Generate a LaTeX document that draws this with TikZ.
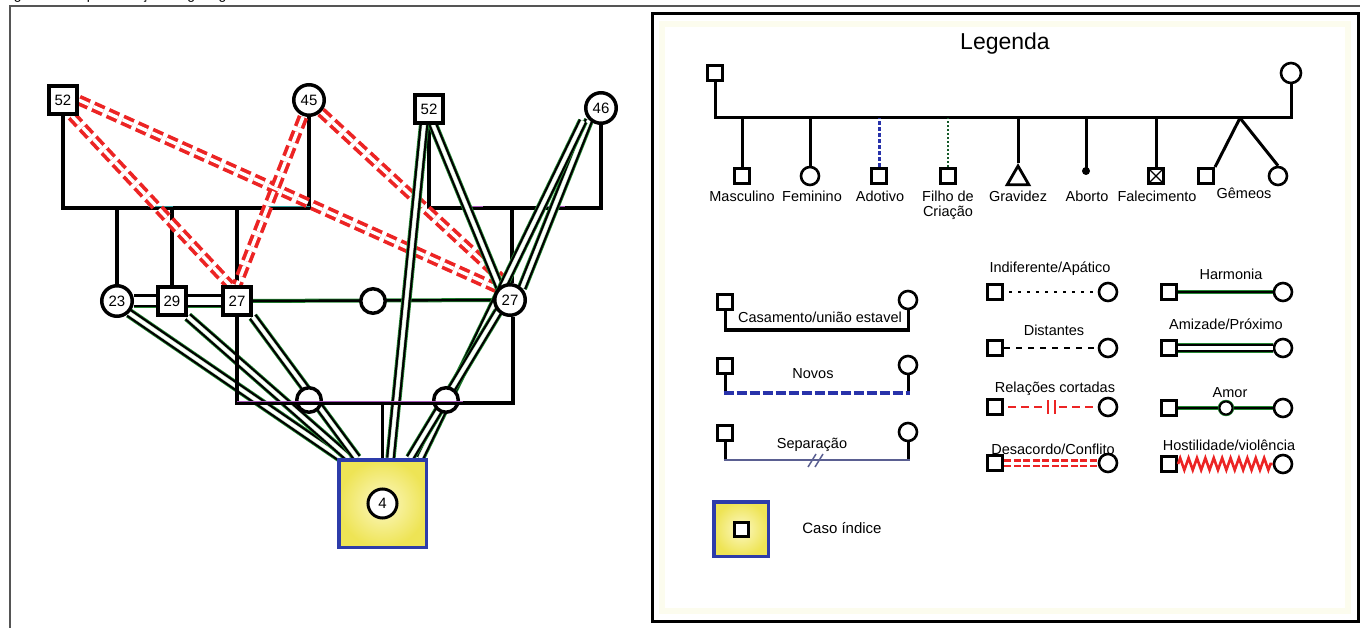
\documentclass[tikz,border=0pt]{standalone}
\usepackage{fontspec}
\setmainfont{Liberation Sans}
\usetikzlibrary{calc,decorations.pathmorphing,shapes.geometric}
\pgfdeclarelayer{famlayer}
\pgfdeclarelayer{rellayer}
\pgfdeclarelayer{toplayer}
\pgfsetlayers{famlayer,rellayer,main,toplayer}

\definecolor{confred}{RGB}{236,36,36}
\definecolor{relgreen}{RGB}{35,135,50}
\definecolor{relpale}{RGB}{190,225,190}
\definecolor{idxblue}{RGB}{45,60,170}
\definecolor{idxyellow}{RGB}{238,228,85}
\definecolor{idxlight}{RGB}{252,248,195}
\definecolor{lilac}{RGB}{165,85,185}
\definecolor{tealtint}{RGB}{40,150,150}
\definecolor{newblue}{RGB}{40,50,170}
\definecolor{sepblue}{RGB}{90,95,145}
\definecolor{fostergreen}{RGB}{20,90,40}
\definecolor{framegray}{RGB}{85,85,85}
\definecolor{paleedge}{RGB}{252,252,238}

\tikzset{
  fam/.style={draw=black, line width=3.5pt},
  lfam/.style={draw=black, line width=3pt},
  numfont/.style={font=\fontsize{15}{17}\selectfont},
  gsq/.style={draw=black, fill=white, line width=4pt, minimum size=27.5pt, inner sep=0pt, numfont},
  gci/.style={circle, draw=black, fill=white, line width=3.5pt, minimum size=30.5pt, inner sep=0pt, numfont},
  kid/.style={circle, draw=black, fill=white, line width=3.5pt, minimum size=24.5pt, inner sep=0pt},
  idxbox/.style={draw=idxblue, line width=3.5pt, inner color=idxlight, outer color=idxyellow, inner sep=0pt},
  lsq/.style={draw=black, fill=white, line width=2.6pt, minimum size=15.5pt, inner sep=0pt},
  lci/.style={circle, draw=black, fill=white, line width=2.6pt, minimum size=18pt, inner sep=0pt},
  lbl/.style={font=\fontsize{14.5}{16}\selectfont, inner sep=0pt, anchor=base},
  conflict/.style={draw=confred, line width=3.7pt, double=white, double distance=3.4pt, dash pattern=on 11pt off 5pt},
  lconflict/.style={draw=confred, line width=2.5pt, double=white, double distance=3pt, dash pattern=on 7pt off 2.5pt},
  close/.style={draw=white, line width=3pt, preaction={draw=relpale, line width=4.2pt, preaction={draw=black, line width=8.6pt, preaction={draw=relgreen, line width=10.2pt}}}},
  closewide/.style={draw=white, line width=7.5pt, preaction={draw=black, line width=13pt, preaction={draw=relgreen, line width=14.6pt}}},
  lclose/.style={draw=white, line width=3.5pt, preaction={draw=black, line width=8pt, preaction={draw=relgreen, line width=9.4pt}}},
  harmony/.style={draw=black, line width=2.4pt, preaction={draw=relgreen, line width=4pt}},
}

\begin{document}
\begin{tikzpicture}[x=1pt, y=-1pt]
\useasboundingbox (0,0) rectangle (1360,628);

% caption line, cut by the page edge
\node[anchor=base west, inner sep=0pt, font=\fontsize{14}{16}\selectfont] (caption) at (2,0) {Figura 1 – Representação do genograma};

% outer frame
\draw[framegray, line width=1.3pt] (10,628) -- (10,6) -- (1360,6);

% ---------------- genogram ----------------
\node[gsq] (m52a) at (63,100) {52};
\node[gci] (f45) at (309,100) {45};
\node[gsq] (m52b) at (429,109) {52};
\node[gci] (f46) at (601,108) {46};
\node[gci] (f23) at (117,301) {23};
\node[gsq] (m29) at (172,301) {29};
\node[gsq] (m27) at (237,301) {27};
\node[kid] (fx) at (373,301) {};
\node[gci] (f27) at (510,300) {27};
\node[kid] (c1) at (309,400) {};
\node[kid] (c2) at (446,400) {};
\node[idxbox, minimum size=87.5pt] (idx) at (382.5,503.5) {};
\node[gci, line width=3pt, minimum size=29pt] (p4) at (idx.center) {4};

\coordinate (r1) at (0,208);
\coordinate (r3) at (0,403);

\begin{pgfonlayer}{famlayer}
  % first and second generation couples
  \draw[fam] (m52a.south) -- (m52a.south |- r1) -- (f45.south |- r1) -- (f45.south);
  \draw[fam] (f23.north) -- (f23.north |- r1);
  \draw[fam] (m29.north) -- (m29.north |- r1);
  \draw[fam] (m27.north) -- (m27.north |- r1);
  \draw[fam] (m52b.south) -- (m52b.south |- r1) -- (f46.south |- r1) -- (f46.south);
  \draw[fam] ($(f27.north)+(2,0)$) -- ($(f27.north |- r1)+(2,0)$);
  % tints along the sibship lines
  \draw[tealtint, line width=1.3pt] (148,206.5) -- (173,206.5) (267,206.5) -- (310,206.5);
  \draw[lilac, line width=1.3pt] (462,206.5) -- (483,206.5) (537,206.5) -- (565,206.5);
\end{pgfonlayer}

\begin{pgfonlayer}{rellayer}
  % conflict
  \draw[conflict] ($(m52a.south east)+(-7,0)$) -- ($(m27.north)+(-7,0)$);
  \draw[conflict] (m52a.east) -- ($(f27.north west)+(-1,0)$);
  \draw[conflict] ($(f45.south)+(-6,0)$) -- (m27.north);
  \draw[conflict] (f45.south east) -- ($(f27.north)+(-4,0)$);
  % closeness and harmony
  \draw[closewide] (f23) -- (m27);
  \draw[harmony] (m27) -- (f27);
  \draw[close] (f23.south east) -- ($(idx.north west)+(4,0)$);
  \draw[close] (m29.south east) -- ($(idx.north west)+(12,0)$);
  \draw[close] (m27.south east) -- ($(idx.north west)+(20,0)$);
  \draw[close] ($(m52b.south)+(-5,0)$) -- ($(idx.north)+(8,0)$);
  \draw[close] ($(m52b.south)+(4,0)$) -- ($(f27.north west)+(2,0)$);
  \draw[close] (f46.south west) -- (f27.north east);
  \draw[close] ($(f46.south west)+(-6,1)$) -- ($(idx.north east)+(-8,0)$);
  \draw[close] (f27.south west) -- ($(idx.north east)+(-18,0)$);
\end{pgfonlayer}

\begin{pgfonlayer}{toplayer}
  \draw[fam] (m27.south) -- (m27.south |- r3) -- ($(f27.south |- r3)+(3,0)$) -- ($(f27.south)+(3,0)$);
  \draw[fam] (idx.north) -- (idx.north |- r3);
  \draw[lilac, line width=1.3pt] ($(m27.south |- r3)+(0,-1.5)$) -- ($(c2.east |- r3)+(3,-1.5)$);
\end{pgfonlayer}

% ---------------- legend ----------------
\draw[paleedge, line width=6pt] (662,24) rectangle (1348,611);
\draw[black, line width=3pt] (652,14) rectangle (1358,621);
\node[font=\fontsize{23}{27}\selectfont, inner sep=0pt] (ttl) at (1005,44) {Legenda};

% symbols
\node[lsq] (lm) at (715,73) {};
\node[lci, minimum size=20pt] (lf) at (1291,73) {};
\coordinate (lr) at (0,118);
\draw[lfam] (lm.south) -- (lm.south |- lr) -- (lf.south |- lr) -- (lf.south);

\node[lsq] (k1) at (742,176) {};
\node[lci] (k2) at (810,176) {};
\node[lsq] (k3) at (879,176) {};
\node[lsq] (k4) at (948,176) {};
\node[regular polygon, regular polygon sides=3, draw=black, line width=2.8pt, minimum size=25pt, inner sep=0pt] (k5) at (1018,178.5) {};
\node[circle, fill=black, minimum size=8pt, inner sep=0pt] (k6) at (1086,171) {};
\node[lsq] (k7) at (1156,176) {};
\node[lsq] (k8) at (1206,176) {};
\node[lci] (k9) at (1278,176) {};
\coordinate (apex) at (1240,118);

\draw[lfam] (k1.north) -- (k1.north |- lr);
\draw[lfam] (k2.north) -- (k2.north |- lr);
\draw[newblue, line width=3pt, dash pattern=on 4pt off 2pt] (k3.north) -- (k3.north |- lr);
\draw[fostergreen, line width=2.6pt, dash pattern=on 2pt off 2pt] (k4.north) -- (k4.north |- lr);
\draw[lfam] (k5.north) -- (k5.north |- lr);
\draw[lfam] (k6.center) -- (k6.center |- lr);
\draw[lfam] (k7.north) -- (k7.north |- lr);
\draw[black, line width=1.3pt] ($(k7.north west)+(2,2)$) -- ($(k7.south east)+(-2,-2)$) ($(k7.north east)+(-2,2)$) -- ($(k7.south west)+(2,-2)$);
\draw[lfam] (apex) -- (k8.north east);
\draw[lfam] (apex) -- (k9.north);

\node[lbl] (t1) at (742,202) {Masculino};
\node[lbl] (t2) at (812,202) {Feminino};
\node[lbl] (t3) at (880,202) {Adotivo};
\node[lbl] (t4a) at (948,202) {Filho de};
\node[lbl] (t4b) at (948,217) {Criação};
\node[lbl] (t5) at (1018,202) {Gravidez};
\node[lbl] (t6) at (1087,202) {Aborto};
\node[lbl] (t7) at (1157,202) {Falecimento};
\node[lbl] (t8) at (1244,199) {Gêmeos};

% unions
\node[lsq] (a1) at (725,302) {};
\node[lci] (a2) at (908,300) {};
\coordinate (ya) at (0,330);
\draw[lfam] (a1.south) -- (a1.south |- ya) -- (a2.south |- ya) -- (a2.south);
\node[lbl] (ta) at (820,323) {Casamento/união estavel};

\node[lsq] (b1) at (725,366) {};
\node[lci] (b2) at (908,365) {};
\coordinate (yb) at (0,393);
\draw[lfam] (b1.south) -- (b1.south |- yb);
\draw[lfam] (b2.south) -- (b2.south |- yb);
\draw[newblue, line width=3.5pt, dash pattern=on 10pt off 3pt] ($(b1.south |- yb)+(-1.5,0)$) -- ($(b2.south |- yb)+(1.5,0)$);
\node[lbl] (tb) at (813,378) {Novos};

\node[lsq] (s1) at (725,433) {};
\node[lci] (s2) at (908,432) {};
\coordinate (ys) at (0,460);
\draw[lfam] (s1.south) -- (s1.south |- ys);
\draw[lfam] (s2.south) -- (s2.south |- ys);
\draw[sepblue, line width=2pt] ($(s1.south |- ys)+(-1.5,0)$) -- ($(s2.south |- ys)+(1.5,0)$);
\draw[sepblue, line width=1.5pt] (808,467) -- (816,454) (815,467) -- (823,454);
\node[lbl] (ts) at (812,448) {Separação};

\node[idxbox, minimum size=54.5pt] (ci) at (741,529) {};
\node[lsq, line width=3pt, minimum size=14pt] (cim) at (ci.center) {};
\node[lbl, font=\fontsize{15}{17}\selectfont] (tci) at (842,533) {Caso índice};

% emotional relations
\node[lsq] (d1) at (995,292) {};
\node[lci] (d2) at (1108,292) {};
\draw[black, line width=2.4pt, dash pattern=on 2.5pt off 6.5pt] ($(d1.east)+(5,0)$) -- (d2.west);
\node[lbl] (td) at (1050,273) {Indiferente/Apático};

\node[lsq] (e1) at (995,348) {};
\node[lci] (e2) at (1108,348) {};
\draw[black, line width=2.6pt, dash pattern=on 6pt off 6pt] (e1.east) -- (e2.west);
\node[lbl] (te) at (1054,335) {Distantes};

\node[lsq] (g1) at (995,407) {};
\node[lci] (g2) at (1108,407) {};
\coordinate (gcut) at (1051,407);
\draw[confred, line width=2.6pt, dash pattern=on 8pt off 5pt] ($(g1.east)+(4,0)$) -- ($(gcut)+(-6,0)$);
\draw[confred, line width=2.6pt, dash pattern=on 8pt off 5pt] ($(gcut)+(8,0)$) -- ($(g2.west)+(-3,0)$);
\draw[confred, line width=2.6pt] ($(gcut)+(-3,-7)$) -- ($(gcut)+(-3,7)$) ($(gcut)+(4,-7)$) -- ($(gcut)+(4,7)$);
\node[lbl] (tg) at (1055,392) {Relações cortadas};

\node[lsq] (h1) at (995,463) {};
\node[lci] (h2) at (1108,463) {};
\draw[lconflict] (h1.east) -- (h2.west);
\node[lbl] (th) at (1053,454) {Desacordo/Conflito};

\node[lsq] (o1) at (1169,292) {};
\node[lci] (o2) at (1283,292) {};
\draw[harmony] (o1.east) -- (o2.west);
\node[lbl] (to) at (1231,280) {Harmonia};

\node[lsq] (q1) at (1169,348) {};
\node[lci] (q2) at (1283,348) {};
\draw[lclose] (q1.east) -- (q2.west);
\node[lbl] (tq) at (1226,330) {Amizade/Próximo};

\node[lsq] (v1) at (1169,408) {};
\node[lci] (v2) at (1283,408) {};
\draw[harmony] (v1.east) -- (v2.west);
\node[circle, draw=relgreen, line width=3.4pt, minimum size=13pt, inner sep=0pt] (vh0) at ($(v1)!0.5!(v2)$) {};
\node[circle, draw=black, fill=white, line width=2pt, minimum size=13pt, inner sep=0pt] (vh) at ($(v1)!0.5!(v2)$) {};
\node[lbl] (tv) at (1230,397) {Amor};

\node[lsq] (w1) at (1169,464) {};
\node[lci] (w2) at (1283,464) {};
\draw[confred, line width=2.6pt, decorate, decoration={zigzag, amplitude=6pt, segment length=8.4pt}] (w1.east) -- (w2.west);
\node[lbl] (tw) at (1229,450) {Hostilidade/violência};
\end{tikzpicture}
\end{document}
